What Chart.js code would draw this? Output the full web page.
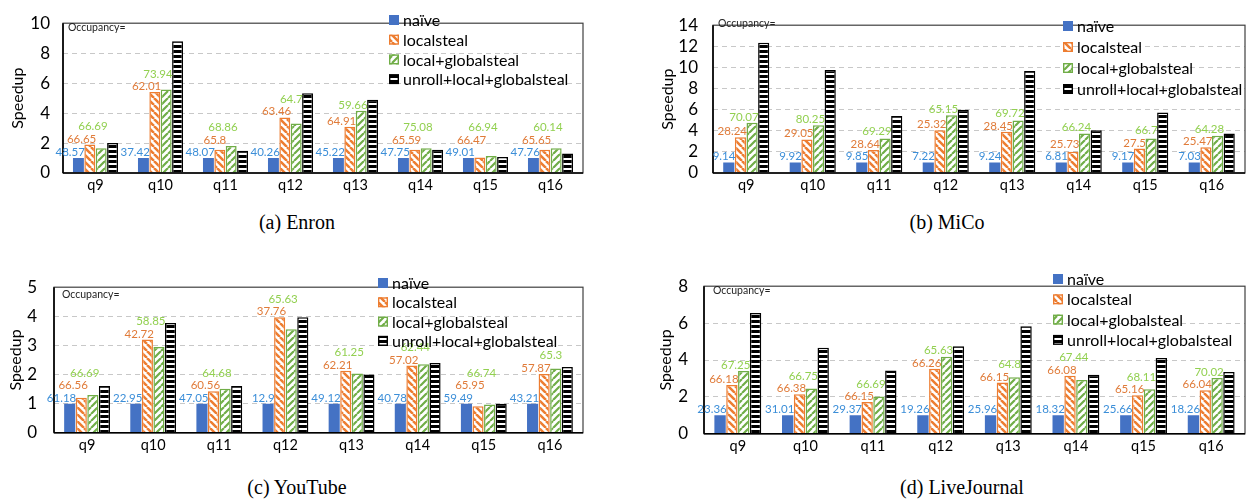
<!DOCTYPE html>
<html>
<head>
<meta charset="utf-8">
<script src="https://cdn.jsdelivr.net/npm/chart.js@4.4.0/dist/chart.umd.min.js"></script>
<style>
  body { margin: 0; width: 1247px; height: 500px; background: #fff; position: relative; overflow: hidden; font-family: Lato, sans-serif; }
  .panel { position: absolute; }
  .caption { position: absolute; width: 300px; text-align: center; font-family: 'Liberation Serif', serif; font-size: 20px; color: #000; }
</style>
</head>
<body>
<div class="panel" style="left:0;top:0"><canvas id="enron" width="600" height="200"></canvas></div>
<div class="panel" style="left:630px;top:0"><canvas id="mico" width="617" height="200"></canvas></div>
<div class="panel" style="left:0;top:260px"><canvas id="youtube" width="600" height="200"></canvas></div>
<div class="panel" style="left:630px;top:260px"><canvas id="livejournal" width="617" height="200"></canvas></div>
<div class="caption" style="left:147px;top:211px">(a) Enron</div>
<div class="caption" style="left:797px;top:211px">(b) MiCo</div>
<div class="caption" style="left:147px;top:476px">(c) YouTube</div>
<div class="caption" style="left:812px;top:476px">(d) LiveJournal</div>

<script>
// --- data ---
const categories = ['q9', 'q10', 'q11', 'q12', 'q13', 'q14', 'q15', 'q16'];
const seriesNames = ['naïve', 'localsteal', 'local+globalsteal', 'unroll+local+globalsteal'];

// (a) Enron
const enronTicks = [0, 2, 4, 6, 8, 10];
const enronNaive = [1, 1, 1, 1, 1, 1, 1, 1];
const enronLocal = [1.90, 5.40, 1.55, 3.71, 3.09, 1.55, 1.03, 1.55];
const enronGlobal = [1.65, 5.57, 1.81, 3.30, 4.16, 1.65, 1.13, 1.65];
const enronUnroll = [2.00, 8.80, 1.48, 5.32, 4.89, 1.55, 1.07, 1.30];
const enronOccNaive = [48.57, 37.42, 48.07, 40.26, 45.22, 47.75, 49.01, 47.76];
const enronOccLocal = [66.65, 62.01, 65.8, 63.46, 64.91, 65.59, 66.47, 65.65];
const enronOccGlobal = [66.69, 73.94, 68.86, 64.7, 59.66, 75.08, 66.94, 60.14];

// (b) MiCo
const micoTicks = [0, 2, 4, 6, 8, 10, 12, 14];
const micoNaive = [1, 1, 1, 1, 1, 1, 1, 1];
const micoLocal = [3.38, 3.18, 2.17, 4.04, 3.90, 2.02, 2.31, 2.45];
const micoGlobal = [4.76, 4.53, 3.26, 5.48, 4.97, 3.75, 3.26, 3.52];
const micoUnroll = [12.33, 9.76, 5.40, 5.98, 9.67, 4.04, 5.72, 3.75];
const micoOccNaive = [9.14, 9.92, 9.85, 7.22, 9.24, 6.81, 9.17, 7.03];
const micoOccLocal = [28.24, 29.05, 28.64, 25.32, 28.45, 25.73, 27.5, 25.47];
const micoOccGlobal = [70.07, 80.25, 69.29, 65.15, 69.72, 66.24, 66.7, 64.28];

// (c) YouTube
const youtubeTicks = [0, 1, 2, 3, 4, 5];
const youtubeNaive = [1, 1, 1, 1, 1, 1, 1, 1];
const youtubeLocal = [1.20, 3.20, 1.43, 3.97, 2.13, 2.31, 0.91, 2.02];
const youtubeGlobal = [1.30, 2.95, 1.51, 3.56, 2.04, 2.35, 0.97, 2.21];
const youtubeUnroll = [1.61, 3.77, 1.61, 3.97, 2.00, 2.40, 1.00, 2.26];
const youtubeOccNaive = [61.18, 22.95, 47.05, 12.9, 49.12, 40.78, 59.49, 43.21];
const youtubeOccLocal = [66.56, 42.72, 60.56, 37.76, 62.21, 57.02, 65.95, 57.87];
const youtubeOccGlobal = [66.69, 58.85, 64.68, 65.63, 61.25, 62.44, 66.74, 65.3];

// (d) LiveJournal
const ljTicks = [0, 2, 4, 6, 8];
const ljNaive = [1, 1, 1, 1, 1, 1, 1, 1];
const ljLocal = [2.64, 2.15, 1.72, 3.53, 2.78, 3.15, 2.09, 2.36];
const ljGlobal = [3.40, 2.45, 2.02, 4.17, 3.07, 2.91, 2.41, 3.02];
const ljUnroll = [6.55, 4.66, 3.43, 4.75, 5.83, 3.20, 4.11, 3.35];
const ljOccNaive = [23.36, 31.01, 29.37, 19.26, 25.96, 18.32, 25.66, 18.26];
const ljOccLocal = [66.18, 66.38, 66.15, 66.26, 66.15, 66.08, 65.16, 66.04];
const ljOccGlobal = [67.25, 66.75, 66.69, 65.63, 64.8, 67.44, 68.11, 70.02];

// --- styles ---
const BLUE = '#4472C4', ORANGE = '#ED7D31', GREEN = '#70AD47';
const labelColors = ['#3B8ED8', '#E07B39', '#92D050'];

function diagPattern(color, dir, lw) {
  const n = 7;
  const c = document.createElement('canvas');
  c.width = n; c.height = n;
  const g = c.getContext('2d');
  g.fillStyle = '#fff';
  g.fillRect(0, 0, n, n);
  g.strokeStyle = color;
  g.lineWidth = lw;
  g.beginPath();
  for (let k = -1; k <= 1; k++) {
    if (dir > 0) { g.moveTo(k * n, n); g.lineTo(k * n + n, 0); }
    else { g.moveTo(k * n, 0); g.lineTo(k * n + n, n); }
  }
  g.stroke();
  return g.createPattern(c, 'repeat');
}
function hStripePattern() {
  const c = document.createElement('canvas');
  c.width = 5; c.height = 5;
  const g = c.getContext('2d');
  g.fillStyle = '#fff'; g.fillRect(0, 0, 5, 5);
  g.fillStyle = '#000'; g.fillRect(0, 0, 5, 3);
  return g.createPattern(c, 'repeat');
}
const fills = [BLUE, diagPattern(ORANGE, -1, 2.5), diagPattern(GREEN, 1, 2.2), hStripePattern()];
const borders = [BLUE, ORANGE, GREEN, '#000'];

// --- plugins ---
const boxPlugin = {
  id: 'box',
  afterDatasetsDraw(chart) {
    const a = chart.chartArea, ctx = chart.ctx;
    ctx.save();
    ctx.strokeStyle = '#404040';
    ctx.lineWidth = 1.2;
    ctx.strokeRect(a.left, a.top, a.right - a.left, a.bottom - a.top);
    ctx.strokeStyle = '#000';
    ctx.lineWidth = 1.6;
    ctx.beginPath();
    ctx.moveTo(a.left, a.bottom); ctx.lineTo(a.right, a.bottom);
    ctx.moveTo(a.left, a.top); ctx.lineTo(a.left, a.bottom);
    ctx.stroke();
    ctx.restore();
  }
};

// occupancy labels: right-aligned to their bar, pushed up above any bar or earlier label they cover
function occPlugin(occ) {
  return {
    id: 'occLabels',
    afterDatasetsDraw(chart) {
      const ctx = chart.ctx;
      ctx.save();
      ctx.font = '11.5px Lato';
      ctx.textAlign = 'left';
      ctx.textBaseline = 'alphabetic';
      for (let i = 0; i < categories.length; i++) {
        const bars = [0, 1, 2, 3].map(s => {
          const b = chart.getDatasetMeta(s).data[i];
          return { l: b.x - b.width / 2, r: b.x + b.width / 2, top: b.y };
        });
        const placed = [];
        for (let s = 0; s < 3; s++) {
          const text = String(occ[s][i]);
          const w = ctx.measureText(text).width;
          const right = bars[s].r + 1;
          const left = right - w;
          let base = bars[s].top - 2;
          bars.forEach((b, k) => {
            if (k !== s && Math.min(right, b.r) - Math.max(left, b.l) > 1) base = Math.min(base, b.top - 2);
          });
          placed.forEach(p => {
            if (Math.min(right, p.r) - Math.max(left, p.l) > 1) base = Math.min(base, p.base - 12.5);
          });
          ctx.fillStyle = labelColors[s];
          ctx.fillText(text, left, base);
          placed.push({ l: left, r: right, base: base });
        }
      }
      ctx.restore();
    }
  };
}

function legendPlugin(lx, ly, gap, ox, oy) {
  return {
    id: 'insideLegend',
    afterDraw(chart) {
      const ctx = chart.ctx;
      ctx.save();
      ctx.font = '10.5px Lato';
      ctx.fillStyle = '#222';
      ctx.textBaseline = 'middle';
      ctx.fillText('Occupancy=', ox, oy);
      ctx.font = '16px Lato';
      seriesNames.forEach((name, s) => {
        const y = ly + s * gap;
        ctx.fillStyle = fills[s];
        ctx.fillRect(lx, y - 5, 10, 10);
        if (s > 0) {
          ctx.strokeStyle = borders[s];
          ctx.lineWidth = 1.4;
          ctx.strokeRect(lx + 0.7, y - 4.3, 8.6, 8.6);
        }
        ctx.fillStyle = '#000';
        ctx.fillText(name, lx + 14, y + 1);
      });
      ctx.restore();
    }
  };
}

function makeChart(id, p) {
  const max = p.ticks[p.ticks.length - 1];
  new Chart(document.getElementById(id), {
    type: 'bar',
    data: {
      labels: categories,
      datasets: p.series.map((vals, s) => ({
        label: seriesNames[s],
        data: vals,
        backgroundColor: fills[s],
        borderColor: borders[s],
        borderWidth: s === 0 ? 0 : 1.5,
        categoryPercentage: 0.7,
        barPercentage: 0.96
      }))
    },
    options: {
      responsive: false,
      animation: false,
      devicePixelRatio: 1,
      layout: { padding: { top: 12, right: p.padRight, left: 0, bottom: 0 } },
      plugins: { legend: { display: false }, tooltip: { enabled: false } },
      scales: {
        x: {
          grid: { display: false, drawTicks: false },
          border: { display: false },
          ticks: { padding: 4, color: '#000', font: { family: 'Lato', size: 14.5 } },
          afterFit: s => { s.height = p.xH; }
        },
        y: {
          min: 0, max: max,
          afterBuildTicks: s => { s.ticks = p.ticks.map(v => ({ value: v })); },
          ticks: { autoSkip: false, padding: p.tickPad, color: '#000', font: { family: 'Lato', size: 17 } },
          grid: {
            drawTicks: false,
            lineWidth: 1,
            color: c => (c.tick.value === 0 || c.tick.value === max) ? 'rgba(0,0,0,0)' : '#C8C8C8'
          },
          border: { display: false, dash: [5, 4] },
          title: {
            display: true, text: 'Speedup', color: '#000',
            font: { family: 'Lato', size: 16 },
            padding: { top: p.titlePad, bottom: 0 }
          },
          afterFit: s => { s.width = p.yW; }
        }
      }
    },
    plugins: [boxPlugin, occPlugin(p.occ), legendPlugin(p.lx, p.ly, p.gap, p.ox, p.oy)]
  });
}

makeChart('enron', {
  ticks: enronTicks,
  series: [enronNaive, enronLocal, enronGlobal, enronUnroll],
  occ: [enronOccNaive, enronOccLocal, enronOccGlobal],
  yW: 63, tickPad: 13, titlePad: 8, padRight: 17, xH: 27,
  lx: 389, ly: 20, gap: 19.7, ox: 68, oy: 28
});
makeChart('mico', {
  ticks: micoTicks,
  series: [micoNaive, micoLocal, micoGlobal, micoUnroll],
  occ: [micoOccNaive, micoOccLocal, micoOccGlobal],
  yW: 83, tickPad: 15, titlePad: 28, padRight: 2, xH: 27,
  lx: 433, ly: 26, gap: 21, ox: 88, oy: 24
});
makeChart('youtube', {
  ticks: youtubeTicks,
  series: [youtubeNaive, youtubeLocal, youtubeGlobal, youtubeUnroll],
  occ: [youtubeOccNaive, youtubeOccLocal, youtubeOccGlobal],
  yW: 54, tickPad: 17, titlePad: 6, padRight: 17, xH: 26,
  lx: 378, ly: 23, gap: 19.3, ox: 62, oy: 35
});
makeChart('livejournal', {
  ticks: ljTicks,
  series: [ljNaive, ljLocal, ljGlobal, ljUnroll],
  occ: [ljOccNaive, ljOccLocal, ljOccGlobal],
  yW: 74, tickPad: 16, titlePad: 26, padRight: 2, xH: 26,
  lx: 423, ly: 19, gap: 20.3, ox: 83, oy: 31
});
</script>
</body>
</html>
